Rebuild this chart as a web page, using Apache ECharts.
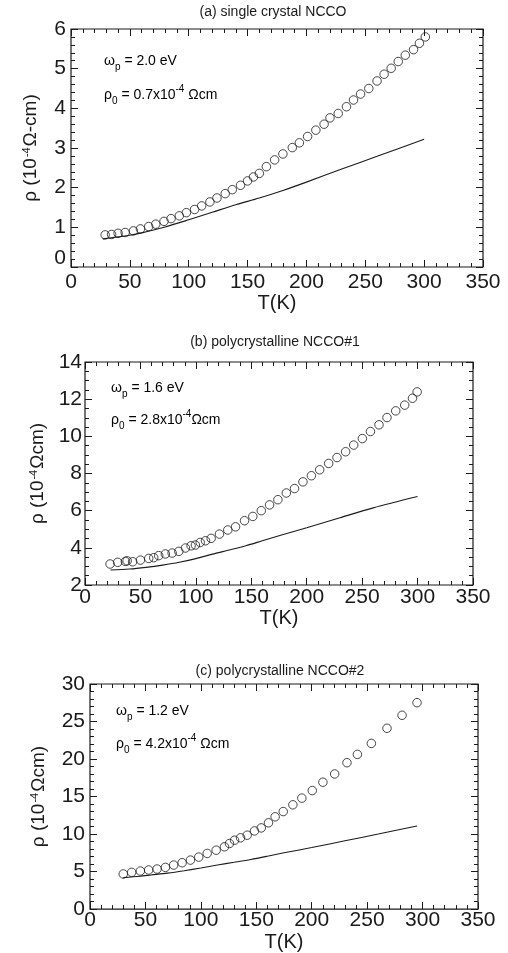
<!DOCTYPE html>
<html><head><meta charset="utf-8">
<script src="https://cdn.jsdelivr.net/npm/echarts@6/dist/echarts.min.js"></script>
<style>html,body{margin:0;padding:0;background:#fff}#c{width:508px;height:953px}</style>
</head><body><div id="c"></div>
<script>
// ---------- data ----------
const panelTitles = ['(a) single crystal NCCO', '(b) polycrystalline NCCO#1', '(c) polycrystalline NCCO#2'];
const omegaP = ['2.0', '1.6', '1.2'];
const rho0 = ['0.7', '2.8', '4.2'];
const xName = 'T(K)';
const yRange = [[0, 6, 1, 5], [2, 14, 2, 4], [0, 30, 5, 5]];   // min, max, interval, minor split
const xRange = [0, 350, 50];

// (a) single crystal
const T_a = [29,34.5,40,46,53,59,66,72,79,85,92,98,105,111,118,124,131,137,144,150,155,160,166,173,180,188,194,201,208,215,220,227,234,240,246,253,260,266,272,278,284,291,296,301];
const rho_a = [0.81,0.82,0.85,0.87,0.91,0.96,1.02,1.08,1.15,1.22,1.29,1.37,1.45,1.54,1.64,1.74,1.85,1.95,2.06,2.17,2.27,2.36,2.53,2.70,2.85,3.01,3.13,3.29,3.45,3.60,3.76,3.87,4.04,4.21,4.36,4.50,4.69,4.86,5.01,5.18,5.34,5.48,5.64,5.80];
const Tfit_a = [27,40,50,60,80,100,120,140,160,180,200,230,260,300];
const rhofit_a = [0.71,0.76,0.80,0.86,1.01,1.19,1.38,1.57,1.74,1.93,2.14,2.47,2.79,3.22];

// (b) polycrystalline #1
const T_b = [22.6,29.5,36.4,38,43,50,57.5,62,66.5,72.5,78.6,84.6,90.6,95.7,99.6,103.9,108.7,113.8,121.3,128.8,135.8,143.9,151.4,159,166.5,174,181.6,189,196.6,204.2,211.7,219.8,227.3,235.1,242.4,250.2,257.5,265.2,272.4,280.3,288.4,295.4,299.6];
const rho_b = [3.13,3.22,3.27,3.30,3.25,3.34,3.43,3.47,3.58,3.67,3.72,3.81,3.99,4.11,4.15,4.29,4.38,4.51,4.74,4.96,5.13,5.46,5.69,6.00,6.31,6.59,6.95,7.19,7.55,7.88,8.20,8.54,8.86,9.17,9.53,9.88,10.26,10.62,11.01,11.37,11.68,12.05,12.39];
const Tfit_b = [23,40,55,70,85,100,115,130,145,160,175,200,230,260,300];
const rhofit_b = [2.81,2.86,2.95,3.07,3.22,3.42,3.66,3.88,4.11,4.38,4.65,5.08,5.62,6.15,6.76];

// (c) polycrystalline #2
const T_c = [30,37.6,45.4,52.9,60.5,68,75.5,83.1,90.6,98.1,105.7,113.8,121.3,125.8,130.4,135.8,141.8,148.4,154.5,161,167,174.3,183,191.1,200.5,210.1,220.7,231.8,241.2,253.8,267.9,281.5,295];
const rho_c = [4.68,4.90,5.07,5.21,5.34,5.56,5.87,6.18,6.53,6.93,7.42,7.85,8.30,8.74,9.18,9.50,9.85,10.42,10.82,11.50,12.30,13.00,13.90,14.79,15.80,16.91,18.01,19.51,20.62,22.08,24.10,25.83,27.51];
const Tfit_c = [30,45,55,70,85,100,115,130,145,160,175,200,230,260,295];
const rhofit_c = [4.20,4.38,4.55,4.80,5.12,5.48,5.87,6.24,6.62,7.05,7.50,8.20,9.10,10.00,11.08];

// ---------- layout / style ----------
const FONT = '"Liberation Sans", Arial, Helvetica, sans-serif';
const INK = '#1a1a1a';
const gridBox = [
  {left: 71, top: 29, width: 412, height: 238},
  {left: 85, top: 362, width: 388, height: 223},
  {left: 90, top: 684, width: 388, height: 227}
];
const grids = gridBox.map(g => Object.assign({show: true, borderColor: INK, borderWidth: 1.2,
  backgroundColor: 'rgba(0,0,0,0)'}, g));
const yNames = ['{n|ρ (10}{s|-4}{n|Ω-cm)}', '{n|ρ (10}{s|-4}{n|Ωcm)}', '{n|ρ (10}{s|-4}{n|Ωcm)}'];
const yNameGap = [31, 38, 42];
const xNameGap = [24, 22, 21];
const xLabelMargin = [5, 2, 1];
const yLabelMargin = [5, 3, 5];
const titlePos = [[273, 5], [275, 335], [280, 664]];
const annoPos = [[104, 54, 84], [111, 381, 409], [116, 704, 733]];
const MAJ = 7, MIN = 4;   // tick lengths (pointing into the plot)

const lineStyle = {color: INK, width: 1.1};
// tick-only axis: placed inside the frame by a negative offset, ticks pointing outward reach the frame
function tickAxis(base, len, major, split) {
  return Object.assign({
    type: 'value', offset: -len,
    axisLine: {show: false, onZero: false},
    axisTick: {show: major, inside: false, length: len, lineStyle: {color: INK, width: 1}},
    minorTick: {show: !major, splitNumber: split, length: len, lineStyle: {color: INK, width: 1}},
    axisLabel: {show: false},
    splitLine: {show: false}, minorSplitLine: {show: false}
  }, base);
}

const xAxes = [], yAxes = [], series = [];
const data = [[T_a, rho_a, Tfit_a, rhofit_a], [T_b, rho_b, Tfit_b, rhofit_b], [T_c, rho_c, Tfit_c, rhofit_c]];
for (let i = 0; i < 3; i++) {
  const [ymin, ymax, yint, ysplit] = yRange[i];
  const xb = {gridIndex: i, min: xRange[0], max: xRange[1], interval: xRange[2]};
  const yb = {gridIndex: i, min: ymin, max: ymax, interval: yint};
  const x0 = xAxes.length, y0 = yAxes.length;
  // bottom major axis carrying labels and name
  const bx = tickAxis(Object.assign({position: 'bottom'}, xb), MAJ, true, 5);
  bx.name = xName; bx.nameLocation = 'middle'; bx.nameGap = xNameGap[i] + MAJ;
  bx.nameTextStyle = {fontFamily: FONT, fontSize: 20, color: INK};
  bx.axisLabel = {show: true, fontFamily: FONT, fontSize: 21, color: INK, margin: xLabelMargin[i] + MAJ};
  xAxes.push(bx);
  xAxes.push(tickAxis(Object.assign({position: 'bottom'}, xb), MIN, false, 5));
  xAxes.push(tickAxis(Object.assign({position: 'top'}, xb), MAJ, true, 5));
  xAxes.push(tickAxis(Object.assign({position: 'top'}, xb), MIN, false, 5));

  const ly = tickAxis(Object.assign({position: 'left'}, yb), MAJ, true, ysplit);
  ly.name = yNames[i]; ly.nameLocation = 'middle'; ly.nameGap = yNameGap[i] + MAJ; ly.nameRotate = 90;
  ly.nameTextStyle = {fontFamily: FONT, color: INK, rich: {
    n: {fontFamily: FONT, fontSize: 19, color: INK},
    s: {fontFamily: FONT, fontSize: 11, color: INK, verticalAlign: 'top', padding: [0, 1, 8, 1]}
  }};
  ly.axisLabel = {show: true, fontFamily: FONT, fontSize: 21, color: INK, margin: yLabelMargin[i] + MAJ,
    formatter: (v) => (i === 0 && v === 0) ? '{z|0}' : String(v),
    rich: {z: {fontFamily: FONT, fontSize: 21, color: INK, padding: [0, 0, 18, 0]}}};
  yAxes.push(ly);
  yAxes.push(tickAxis(Object.assign({position: 'left'}, yb), MIN, false, ysplit));
  yAxes.push(tickAxis(Object.assign({position: 'right'}, yb), MAJ, true, ysplit));
  yAxes.push(tickAxis(Object.assign({position: 'right'}, yb), MIN, false, ysplit));

  const [T, r, Tf, rf] = data[i];
  series.push({
    type: 'line', xAxisIndex: x0, yAxisIndex: y0, data: Tf.map((t, k) => [t, rf[k]]),
    showSymbol: false, smooth: 0.3, lineStyle: lineStyle, z: 2, animation: false
  });
  series.push({
    type: 'scatter', xAxisIndex: x0, yAxisIndex: y0, data: T.map((t, k) => [t, r[k]]),
    symbol: 'circle', symbolSize: 8.5,
    itemStyle: {color: 'rgba(0,0,0,0)', borderColor: INK, borderWidth: 1}, z: 3, animation: false
  });
}

const titles = panelTitles.map((t, i) => ({
  text: t, left: titlePos[i][0], top: titlePos[i][1], textAlign: 'center', padding: 0,
  textStyle: {fontFamily: FONT, fontSize: 14, fontWeight: 'normal', color: INK}
}));

const annoRich = {
  t: {fontFamily: FONT, fontSize: 14, color: INK, lineHeight: 22, verticalAlign: 'middle'},
  sub: {fontFamily: FONT, fontSize: 10, color: INK, verticalAlign: 'bottom', lineHeight: 22},
  sup: {fontFamily: FONT, fontSize: 10, color: INK, verticalAlign: 'top', lineHeight: 22}
};
const graphics = [];
for (let i = 0; i < 3; i++) {
  const sp = i === 1 ? '' : ' ';
  graphics.push({type: 'text', left: annoPos[i][0], top: annoPos[i][1],
    style: {text: '{t|ω}{sub|p}{t| = ' + omegaP[i] + ' eV}', rich: annoRich}});
  graphics.push({type: 'text', left: annoPos[i][0], top: annoPos[i][2],
    style: {text: '{t|ρ}{sub|0}{t| = ' + rho0[i] + 'x10}{sup|-4}{t|' + sp + 'Ωcm}', rich: annoRich}});
}

const chart = echarts.init(document.getElementById('c'), null, {renderer: 'canvas'});
chart.setOption({
  backgroundColor: '#fff', animation: false,
  title: titles, grid: grids, xAxis: xAxes, yAxis: yAxes, series: series, graphic: graphics
});
</script></body></html>
